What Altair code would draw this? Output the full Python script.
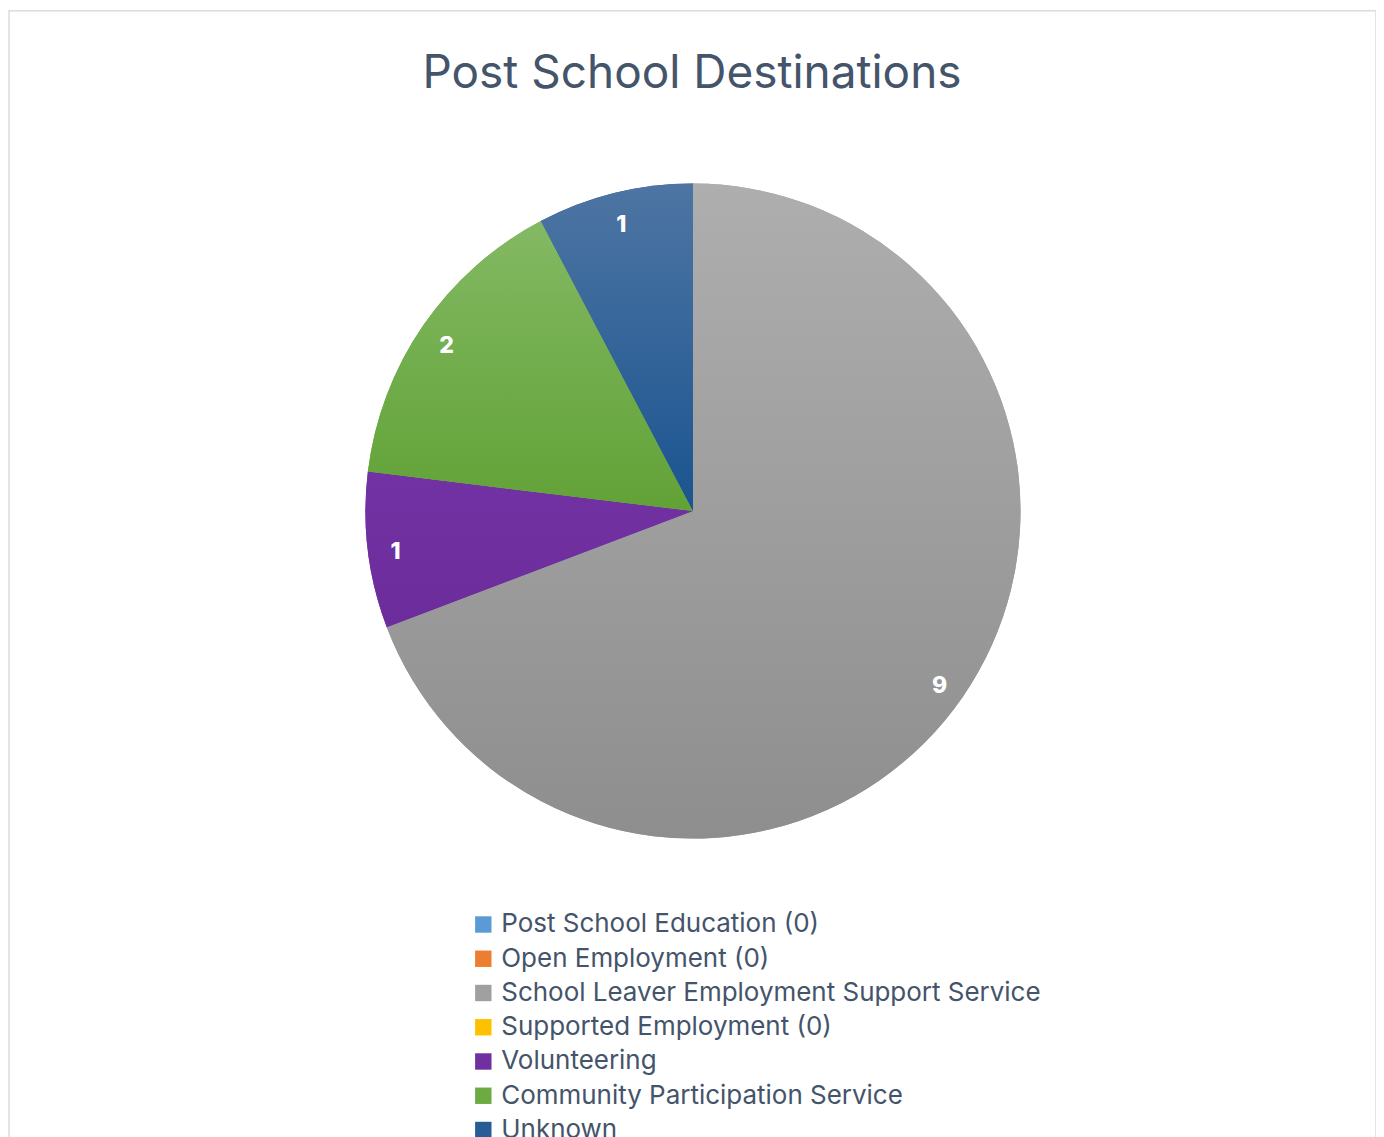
import altair as alt
import pandas as pd

# ---- data ----
categories = [
    "Post School Education (0)",
    "Open Employment (0)",
    "School Leaver Employment Support Service",
    "Supported Employment (0)",
    "Volunteering",
    "Community Participation Service",
    "Unknown",
]
values = [0, 0, 9, 0, 1, 2, 1]
colors = ["#5B9BD5", "#ED7D31", "#A0A0A0", "#FFC000", "#7030A0", "#6CAA42", "#265D94"]
grad_top = ["#6AA6DD", "#F08A45", "#AEAEAE", "#FFCB33", "#7332A3", "#83B963", "#4E75A3"]
grad_bottom = ["#3F83C4", "#DE6115", "#8E8E8E", "#F0B400", "#6C2C9B", "#61A236", "#1A5490"]
title_text = "Post School Destinations"

df = pd.DataFrame({"category": categories, "value": values, "idx": list(range(len(categories)))})

TEXT_COLOR = "#44546A"
FONT = "Inter"
CX, CY, R = 685, 501, 328


def gradient(top, bottom):
    return {
        "gradient": "linear",
        "x1": 0, "y1": 0, "x2": 0, "y2": 1,
        "stops": [{"offset": 0, "color": top}, {"offset": 1, "color": bottom}],
    }


theta = alt.Theta("value:Q", stack=True)
order = alt.Order("idx:Q", sort="ascending")

base_arc = alt.Chart(df).mark_arc(radius=R, stroke=None).encode(
    theta=theta,
    order=order,
    x=alt.value(CX),
    y=alt.value(CY),
    color=alt.Color(
        "category:N",
        scale=alt.Scale(domain=categories, range=colors),
        legend=alt.Legend(
            title=None,
            orient="none",
            legendX=462,
            legendY=902,
            symbolType="square",
            symbolSize=270,
            symbolStrokeWidth=0,
            symbolOpacity=1,
            labelFontSize=26,
            labelFont=FONT,
            labelColor=TEXT_COLOR,
            labelLimit=800,
            labelOffset=5,
            rowPadding=8.3,
            padding=0,
        ),
    ),
)

fill_def = {
    "condition": [
        {"test": f"datum.idx == {i}", "value": gradient(grad_top[i], grad_bottom[i])}
        for i in range(len(categories))
    ],
    "value": "#A0A0A0",
}

grad_arc = alt.Chart(df).mark_arc(radius=R, stroke=None).encode(
    theta=theta,
    order=order,
    x=alt.value(CX),
    y=alt.value(CY),
    fill=fill_def,
)

labels = alt.Chart(df).transform_filter("datum.value > 0").mark_text(
    radius=300, fontSize=23, fontWeight=800, color="white", font=FONT, dy=5
).encode(
    theta=theta,
    order=order,
    x=alt.value(CX),
    y=alt.value(CY),
    text="value:Q",
)

title_layer = alt.Chart(alt.Data(values=[{"t": title_text}])).mark_text(
    fontSize=46, font=FONT, color=TEXT_COLOR, baseline="alphabetic", align="center"
).encode(text="t:N", x=alt.value(684), y=alt.value(77))

chart = alt.layer(base_arc, grad_arc, labels, title_layer).properties(
    width=1369,
    height=1135,
    padding={"left": 1, "top": 2, "right": 0, "bottom": 0},
    background="white",
).configure_view(stroke="#D9DCE1", strokeWidth=1.5)

chart.save("out.html", embed_options={"renderer": "svg", "actions": False})
